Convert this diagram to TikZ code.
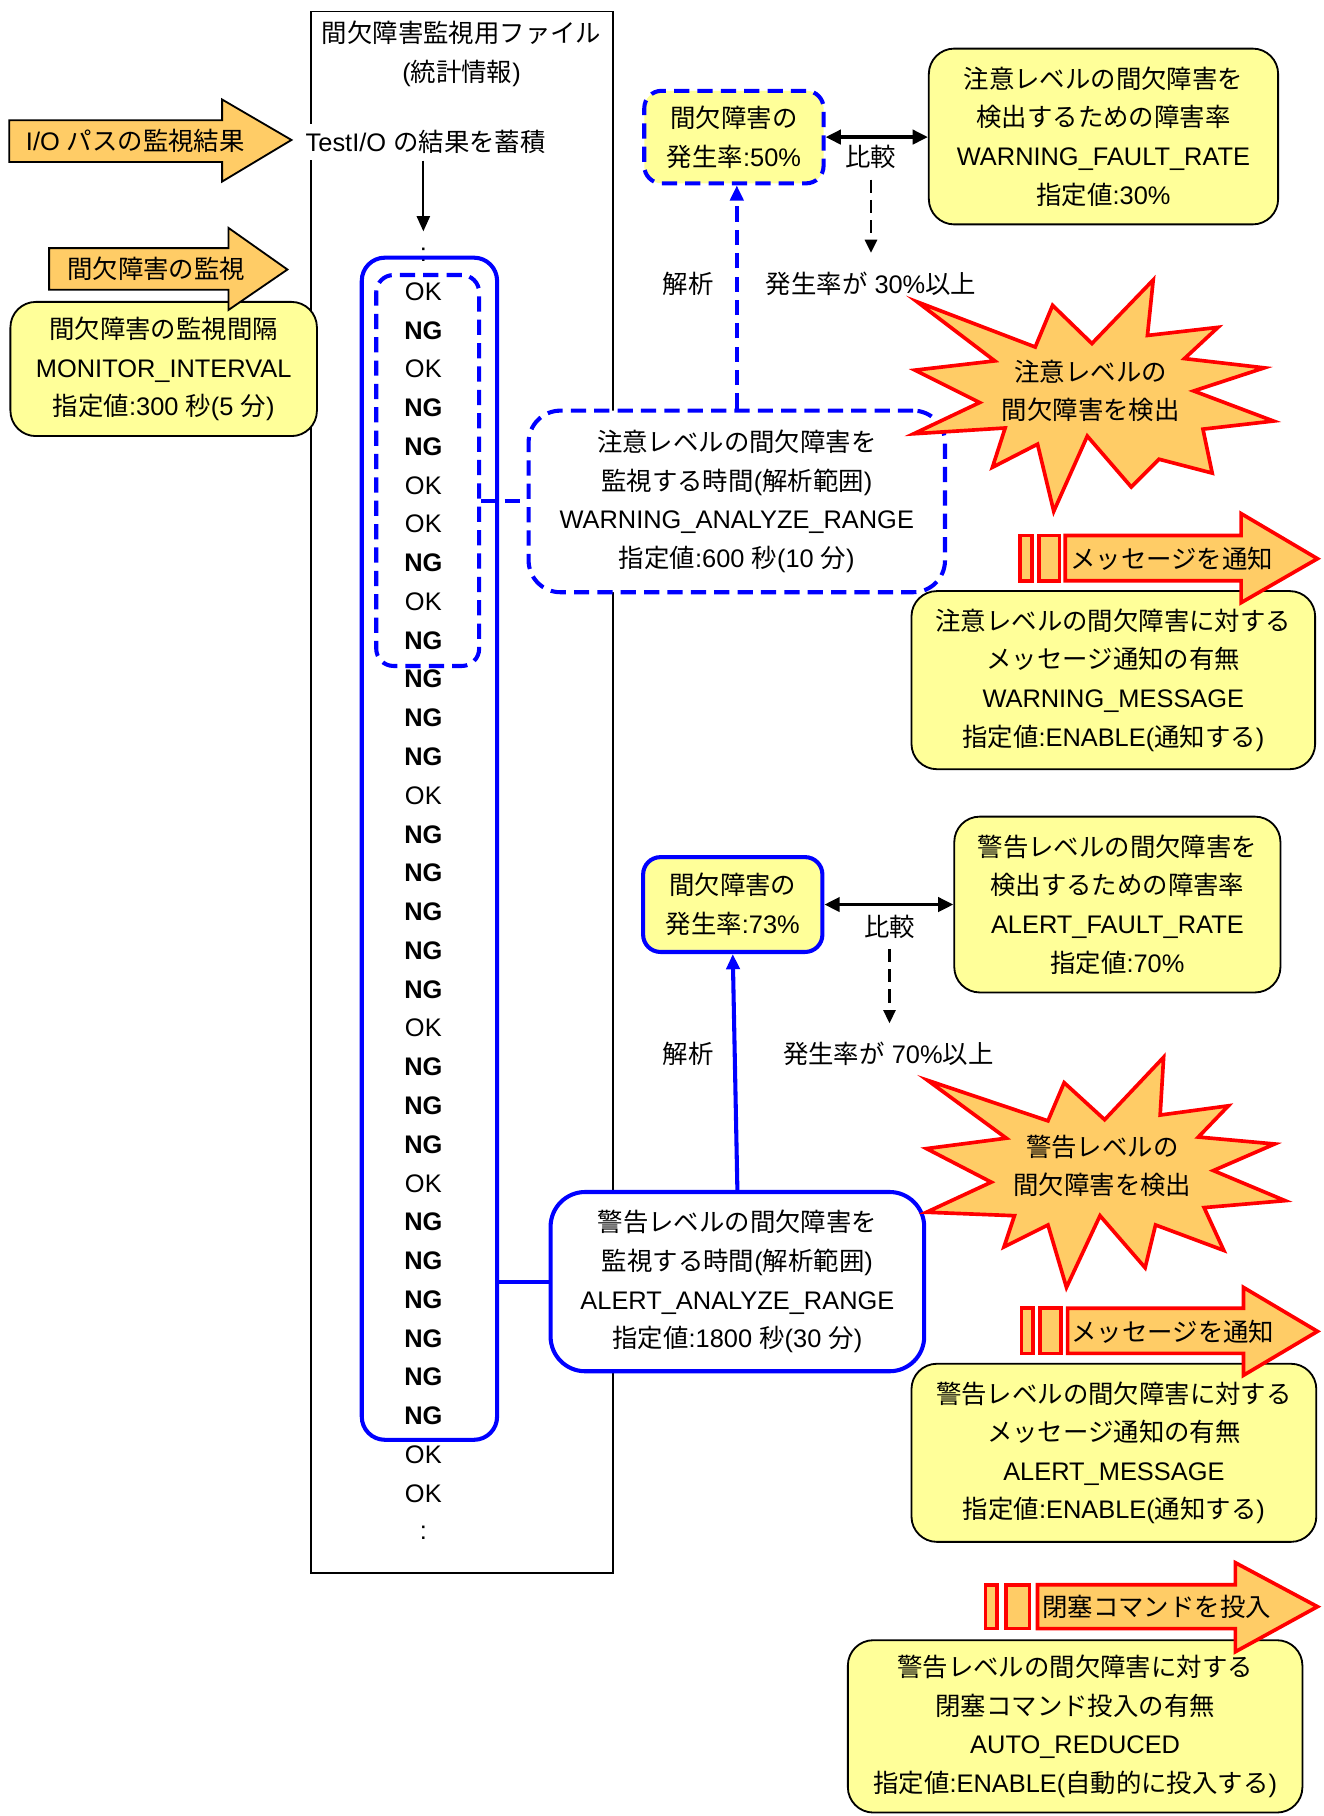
\documentclass[tikz,border=0pt]{standalone}
\usepackage{fontspec}
\setmainfont{Liberation Sans}
\newfontfamily\jpfont{Noto Sans CJK JP}
\usetikzlibrary{arrows.meta}
\XeTeXinterchartokenstate=1
\newXeTeXintercharclass\JPclass
\newcount\jpcc
\def\jpsetrange#1#2{\jpcc=#1\relax\loop\XeTeXcharclass\jpcc=\JPclass\relax\advance\jpcc by 1\relax\ifnum\jpcc<#2\relax\repeat}
\jpsetrange{"3000}{"3100}
\jpsetrange{"4E00}{"A000}
\jpsetrange{"FF00}{"FFF0}
\XeTeXinterchartoks 0 \JPclass = {\jpfont}
\XeTeXinterchartoks 4095 \JPclass = {\jpfont}
\XeTeXinterchartoks \JPclass 0 = {\rmfamily}
\XeTeXinterchartoks \JPclass 4095 = {\rmfamily}
\definecolor{yfill}{HTML}{FFFF99}
\definecolor{ofill}{HTML}{FFCC66}
\newcommand\upx{0.02cm}
\newcommand\rOK{OK}
\newcommand\rNG{\textbf{NG}}
\begin{document}
\begin{tikzpicture}[x=0.02cm,y=-0.02cm,
  font=\fontsize{12.5pt}{19pt}\selectfont,
  txt/.style={inner sep=1pt, align=center},
  filebox/.style={draw=black, line width=0.9pt, inner sep=0pt, outer sep=0pt},
  ybox/.style={draw=black, line width=0.9pt, fill=yfill, rounded corners=0.44cm, inner sep=0pt, align=center},
  bluesolid/.style={draw=blue, line width=2pt, inner sep=0pt, align=center},
  bluedash/.style={draw=blue, line width=2pt, dash pattern=on 7.5pt off 4pt, inner sep=0pt, align=center},
  bdash/.style={draw=black, line width=1.2pt, dash pattern=on 6.5pt off 3.5pt},
  oarrow/.style={draw=black, line width=0.9pt, fill=ofill},
  rarrow/.style={draw=red, line width=1.8pt, fill=ofill},
  burst/.style={draw=red, line width=1.8pt, fill=ofill},
  bigtip/.style={-{Triangle[length=7.5pt,width=6.5pt]}},
  smalltip/.style={-{Triangle[length=6.5pt,width=6pt]}},
  dbltip/.style={{Triangle[length=7.5pt,width=7pt]}-{Triangle[length=7.5pt,width=7pt]}}
]
\useasboundingbox (0,0) rectangle (1144,1570);

% file box
\node[filebox, minimum width=261*\upx, minimum height=1350*\upx, anchor=north west] (file) at (269,10) {};
\node[txt] (ftitle) at (399,46.5) {間欠障害監視用ファイル\\(統計情報)};
\node[fill=white, inner sep=3pt] (tio) at (368,123) {TestI/O の結果を蓄積};
\coordinate (tioend) at (366,200);
\draw[line width=0.9pt, bigtip] (tio.south -| tioend) -- (tioend);

% rows
\node[txt] (dtop) at (366,220) {:};
\foreach \v [count=\i from 0] in {\rOK,\rNG,\rOK,\rNG,\rNG,\rOK,\rOK,\rNG,\rOK,\rNG,
  \rNG,\rNG,\rNG,\rOK,\rNG,\rNG,\rNG,\rNG,\rNG,\rOK,\rNG,\rNG,\rNG,\rOK,\rNG,\rNG,\rNG,\rNG,\rNG,\rNG,
  \rOK,\rOK}
  { \node[txt] (r\i) at (366,{252+33.52*\i}) {\v}; }
\node[txt] (dbot) at (366,1325) {:};

% column boxes
\node[bluesolid, rounded corners=0.4cm, minimum width=117*\upx, minimum height=1022*\upx, anchor=north west] (alertcol) at (311,221) {};
\node[bluedash, rounded corners=0.3cm, minimum width=89*\upx, minimum height=338*\upx, anchor=north west] (warncol) at (323.5,236) {};

% range boxes
\node[bluedash, fill=white, rounded corners=0.55cm, minimum width=360*\upx, minimum height=157*\upx] (wrange) at (637,433.5)
  {注意レベルの間欠障害を\\監視する時間(解析範囲)\\WARNING\_ANALYZE\_RANGE\\指定値:600 秒(10 分)};
\draw[bluedash] (warncol.east |- wrange.west) -- (wrange.west);
\node[bluesolid, fill=white, rounded corners=0.6cm, minimum width=323*\upx, minimum height=155*\upx] (arange) at (637.5,1108)
  {警告レベルの間欠障害を\\監視する時間(解析範囲)\\ALERT\_ANALYZE\_RANGE\\指定値:1800 秒(30 分)};
\draw[bluesolid] (alertcol.east |- arange.west) -- (arange.west);

% monitor
\node[ybox, minimum width=265*\upx, minimum height=116*\upx] (mon) at (141.5,319)
  {間欠障害の監視間隔\\MONITOR\_INTERVAL\\指定値:300 秒(5 分)};
\draw[oarrow] (8,104) -- (192,104) -- (192,86) -- (252,121) -- (192,157) -- (192,140) -- (8,140) -- cycle;
\node[txt] (ioarrow) at (117,122) {I/O パスの監視結果};
\draw[oarrow] (42.5,214.5) -- (197.5,214.5) -- (197.5,197) -- (248.5,233) -- (197.5,268) -- (197.5,250.5) -- (42.5,250.5) -- cycle;
\node[txt] (monarrow) at (135,232) {間欠障害の監視};

% warning level comparison
\node[bluedash, fill=yfill, rounded corners=0.3cm, minimum width=155*\upx, minimum height=80*\upx] (r50) at (634.5,118.5) {間欠障害の\\発生率:50\%};
\node[ybox, minimum width=302*\upx, minimum height=152*\upx] (wfr) at (954,118)
  {注意レベルの間欠障害を\\検出するための障害率\\WARNING\_FAULT\_RATE\\指定値:30\%};
\draw[line width=1.7pt, dbltip] (r50.east) -- (r50.east -| wfr.west);
\node[txt] (cmp1) at (753,136) {比較};
\node[txt] (res1) at (753,245) {発生率が 30\%以上};
\draw[bdash, smalltip, shorten <=4pt, shorten >=8pt] (cmp1.south) -- (cmp1.south |- res1.north);
\node[txt] (ana1) at (595,245) {解析};
\draw[bluedash, bigtip] (wrange.north) -- (wrange.north |- r50.south);

% alert level comparison
\node[bluesolid, fill=yfill, rounded corners=0.3cm, minimum width=155*\upx, minimum height=82*\upx] (r73) at (633.5,782) {間欠障害の\\発生率:73\%};
\node[ybox, minimum width=282*\upx, minimum height=152*\upx] (afr) at (966,782)
  {警告レベルの間欠障害を\\検出するための障害率\\ALERT\_FAULT\_RATE\\指定値:70\%};
\draw[line width=1.7pt, dbltip] (r73.east) -- (r73.east -| afr.west);
\node[txt] (cmp2) at (769,801) {比較};
\node[txt] (res2) at (768,911) {発生率が 70\%以上};
\draw[bdash, smalltip, shorten <=4pt, shorten >=8pt] (cmp2.south) -- (cmp2.south |- res2.north);
\node[txt] (ana2) at (595,911) {解析};
\draw[bluesolid, bigtip] (arange.north) -- (r73.south);

% starbursts
\draw[burst] (997,242) -- (992,290) -- (1053,283) -- (1024,310) -- (1093,318) -- (1032,338) -- (1101,364) -- (1040,371)
  -- (1048,409) -- (1002,397) -- (978,421) -- (940,377) -- (911,442) -- (897,384) -- (858,404) -- (869,370)
  -- (790,375) -- (847,348) -- (791,320) -- (860,312) -- (793,261) -- (895,300) -- (910,264) -- (944,297) -- cycle;
\node[txt] (burst1) at (943,338) {注意レベルの\\間欠障害を検出};
\draw[burst] (1006,914) -- (1003,964) -- (1062,956) -- (1036,983) -- (1102,989) -- (1049,1012) -- (1111,1038) -- (1041,1044)
  -- (1058,1081) -- (999,1059) -- (990,1096) -- (951,1051) -- (922,1113) -- (906,1059) -- (868,1078) -- (877,1051)
  -- (801,1048) -- (857,1022) -- (801,993) -- (870,984) -- (802,934) -- (906,969) -- (920,936) -- (955,968) -- cycle;
\node[txt] (burst2) at (953,1008) {警告レベルの\\間欠障害を検出};

% warning message
\node[ybox, minimum width=349*\upx, minimum height=154*\upx] (wmsg) at (962.5,588)
  {注意レベルの間欠障害に対する\\メッセージ通知の有無\\WARNING\_MESSAGE\\指定値:ENABLE(通知する)};
\draw[rarrow] (882,463) rectangle (892,502);
\draw[rarrow] (898,463) rectangle (916,502);
\draw[rarrow] (921,463) -- (1073,463) -- (1073,444) -- (1139,483) -- (1073,521) -- (1073,502) -- (921,502) -- cycle;
\node[txt] (msg1) at (1013,483) {メッセージを通知};

% alert message
\node[ybox, minimum width=350*\upx, minimum height=154*\upx] (amsg) at (963,1256)
  {警告レベルの間欠障害に対する\\メッセージ通知の有無\\ALERT\_MESSAGE\\指定値:ENABLE(通知する)};
\draw[rarrow] (883,1131) rectangle (893,1170);
\draw[rarrow] (899,1131) rectangle (917,1170);
\draw[rarrow] (923,1131) -- (1075,1131) -- (1075,1113) -- (1139,1151) -- (1075,1189) -- (1075,1170) -- (923,1170) -- cycle;
\node[txt] (msg2) at (1014,1151) {メッセージを通知};

% auto reduced
\node[ybox, minimum width=393*\upx, minimum height=149*\upx] (auto) at (929.5,1492.5)
  {警告レベルの間欠障害に対する\\閉塞コマンド投入の有無\\AUTO\_REDUCED\\指定値:ENABLE(自動的に投入する)};
\draw[rarrow] (852,1370) rectangle (862,1408);
\draw[rarrow] (870,1370) rectangle (890,1408);
\draw[rarrow] (897,1370) -- (1068,1370) -- (1068,1351) -- (1139,1389) -- (1068,1428) -- (1068,1408) -- (897,1408) -- cycle;
\node[txt] (cmd) at (1000,1389) {閉塞コマンドを投入};
\end{tikzpicture}
\end{document}
